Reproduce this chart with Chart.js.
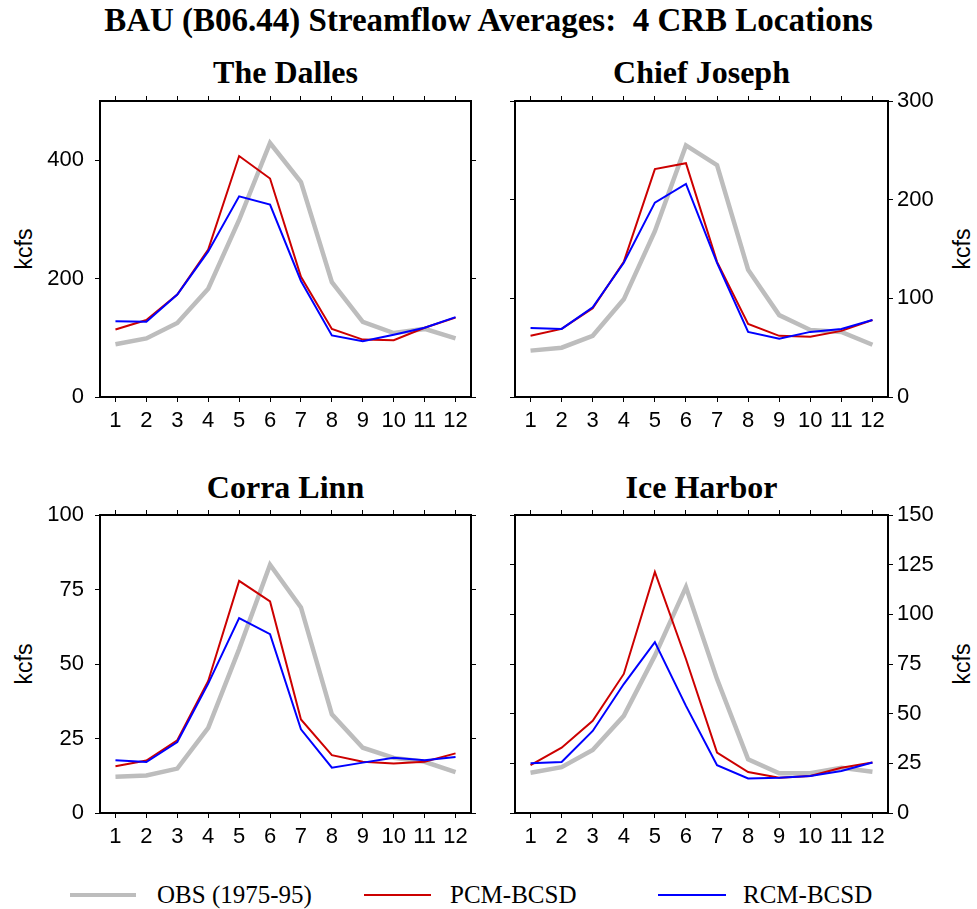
<!DOCTYPE html>
<html>
<head>
<meta charset="utf-8">
<script src="https://cdn.jsdelivr.net/npm/chart.js@4.4.0/dist/chart.umd.min.js"></script>
<style>
  html, body { margin: 0; padding: 0; background: #fff; }
  #wrap { position: relative; width: 977px; height: 909px; overflow: hidden; background: #fff; }
  canvas { position: absolute; }
  .title { position: absolute; left: 0; width: 977px; text-align: center; font-family: "Liberation Serif", "Times New Roman", serif; font-weight: bold; font-size: 33px; line-height: 33px; white-space: nowrap; }
  .ptitle { position: absolute; text-align: center; font-family: "Liberation Serif", "Times New Roman", serif; font-weight: bold; font-size: 32px; line-height: 32px; white-space: nowrap; }
  .ylab { position: absolute; font-family: "Liberation Sans", Arial, sans-serif; font-size: 23px; line-height: 23px; white-space: nowrap; transform-origin: center center; transform: translate(-50%, -50%) rotate(-90deg); }
  .leg { position: absolute; font-family: "Liberation Serif", "Times New Roman", serif; font-size: 25px; line-height: 25px; white-space: nowrap; }
  .legline { position: absolute; }
</style>
</head>
<body>
<div id="wrap">
  <div class="title" style="top:4px;">BAU (B06.44) Streamflow Averages:&nbsp; 4 CRB Locations</div>
  <div class="ptitle" style="left:100px; width:371px; top:56px;">The Dalles</div>
  <div class="ptitle" style="left:515px; width:373px; top:56px;">Chief Joseph</div>
  <div class="ptitle" style="left:100px; width:371px; top:471px;">Corra Linn</div>
  <div class="ptitle" style="left:515px; width:373px; top:471px;">Ice Harbor</div>
  <div class="ylab" style="left:24px; top:249px;">kcfs</div>
  <div class="ylab" style="left:962px; top:249px;">kcfs</div>
  <div class="ylab" style="left:24px; top:664px;">kcfs</div>
  <div class="ylab" style="left:962px; top:664px;">kcfs</div>
  <div class="legline" style="left:70px; top:893px; width:66px; height:4px; background:#bdbdbd;"></div>
  <div class="leg" style="left:157px; top:882px;">OBS (1975-95)</div>
  <div class="legline" style="left:364px; top:894px; width:67px; height:2px; background:#cc0000;"></div>
  <div class="leg" style="left:450px; top:882px;">PCM-BCSD</div>
  <div class="legline" style="left:658px; top:894px; width:68px; height:2px; background:#0000ff;"></div>
  <div class="leg" style="left:743px; top:882px;">RCM-BCSD</div>
  <canvas id="c1"></canvas>
  <canvas id="c2"></canvas>
  <canvas id="c3"></canvas>
  <canvas id="c4"></canvas>
</div>
<script>
// ---- Data ----
const months = ['1','2','3','4','5','6','7','8','9','10','11','12'];

const obsDalles = [89, 99, 125, 183, 299, 429, 363, 194, 127, 108, 115, 99];
const pcmDalles = [114, 130, 173, 249, 407, 369, 203, 115, 97, 96, 117, 134];
const rcmDalles = [128, 127, 173, 246, 339, 325, 196, 104, 94, 105, 117, 135];

const obsChief = [47, 50, 62, 99, 168, 255, 235, 129, 83, 68, 66, 53];
const pcmChief = [62, 69, 90, 137, 231, 237, 137, 74, 62, 61, 67, 78];
const rcmChief = [70, 69, 91, 136, 197, 216, 136, 66, 59, 66, 69, 78];

const obsCorra = [12.2, 12.6, 14.9, 28.6, 55, 83.3, 69, 33.1, 21.9, 18.5, 17.2, 13.7];
const pcmCorra = [15.7, 17.6, 24.4, 44.3, 77.9, 71, 31.4, 19.4, 17.2, 16.6, 17.2, 20];
const rcmCorra = [17.7, 17.1, 23.8, 43.4, 65.4, 60, 28.1, 15.2, 16.9, 18.5, 17.7, 18.8];

const obsIce = [20.3, 23.1, 31.7, 48.9, 79.2, 113.7, 67.4, 27, 20, 20, 22.8, 20.8];
const pcmIce = [24.1, 32.9, 46.4, 70, 121.3, 77.5, 30.4, 20.6, 17.8, 18.6, 22.8, 25.4];
const rcmIce = [25, 25.7, 41.3, 64.9, 86, 53.9, 24.1, 17.4, 17.8, 18.6, 21.1, 25.4];

const ticksDalles = [0, 200, 400];
const ticksChief = [0, 100, 200, 300];
const ticksCorra = [0, 25, 50, 75, 100];
const ticksIce = [0, 25, 50, 75, 100, 125, 150];

const rangeDalles = [0, 500];
const rangeChief = [0, 300];
const rangeCorra = [0, 100];
const rangeIce = [0, 150];

// ---- Drawing ----
const TICKFONT = { family: '"Liberation Sans", Arial, sans-serif', size: 22 };

function makePanel(id, box, obs, pcm, rcm, tickVals, range, labelSide) {
  // box: [left, top, right, bottom] of plot area in page pixels
  const L = labelSide === 'left' ? 70 : 20;
  const R = labelSide === 'right' ? 70 : 20;
  const T = 30, B = 45;
  const cv = document.getElementById(id);
  const w = box[2] - box[0] + L + R;
  const h = box[3] - box[1] + T + B;
  cv.style.left = (box[0] - L) + 'px';
  cv.style.top = (box[1] - T) + 'px';
  cv.style.width = w + 'px';
  cv.style.height = h + 'px';
  cv.width = w; cv.height = h;

  const setTicks = s => { s.ticks = tickVals.map(v => ({ value: v })); };
  const grid = { drawOnChartArea: false, drawTicks: true, tickLength: 5, color: '#000', lineWidth: 1 };
  const border = { display: true, color: '#000', width: 2 };

  new Chart(cv, {
    type: 'line',
    data: {
      labels: months,
      datasets: [
        { label: 'OBS (1975-95)', data: obs, borderColor: '#bdbdbd', borderWidth: 4.5, order: 3 },
        { label: 'PCM-BCSD', data: pcm, borderColor: '#cc0000', borderWidth: 2, order: 2 },
        { label: 'RCM-BCSD', data: rcm, borderColor: '#0000ff', borderWidth: 2, order: 1 }
      ]
    },
    options: {
      responsive: false,
      animation: false,
      devicePixelRatio: 1,
      layout: { padding: 0 },
      elements: { point: { radius: 0 }, line: { tension: 0, borderCapStyle: 'butt', borderJoinStyle: 'miter' } },
      plugins: { legend: { display: false }, tooltip: { enabled: false }, title: { display: false } },
      scales: {
        x: {
          type: 'category', position: 'bottom', offset: true,
          grid: grid, border: border,
          ticks: { color: '#000', font: TICKFONT, padding: 6, maxRotation: 0, autoSkip: false },
          afterFit: s => { s.height = B; }
        },
        x2: {
          type: 'category', position: 'top', offset: true, labels: months,
          grid: grid, border: border,
          ticks: { display: false },
          afterFit: s => { s.height = T; }
        },
        y: {
          type: 'linear', position: 'left', min: range[0], max: range[1],
          grid: grid, border: border,
          afterBuildTicks: setTicks,
          ticks: { display: labelSide === 'left', color: '#000', font: TICKFONT, padding: 11 },
          afterFit: s => { s.width = L; }
        },
        y2: {
          type: 'linear', position: 'right', min: range[0], max: range[1],
          grid: grid, border: border,
          afterBuildTicks: setTicks,
          ticks: { display: labelSide === 'right', color: '#000', font: TICKFONT, padding: 4 },
          afterFit: s => { s.width = R; }
        }
      }
    }
  });
}

makePanel('c1', [100, 101, 471, 397], obsDalles, pcmDalles, rcmDalles, ticksDalles, rangeDalles, 'left');
makePanel('c2', [515, 101, 888, 397], obsChief, pcmChief, rcmChief, ticksChief, rangeChief, 'right');
makePanel('c3', [100, 515, 471, 813], obsCorra, pcmCorra, rcmCorra, ticksCorra, rangeCorra, 'left');
makePanel('c4', [515, 515, 888, 813], obsIce, pcmIce, rcmIce, ticksIce, rangeIce, 'right');
</script>
</body>
</html>
